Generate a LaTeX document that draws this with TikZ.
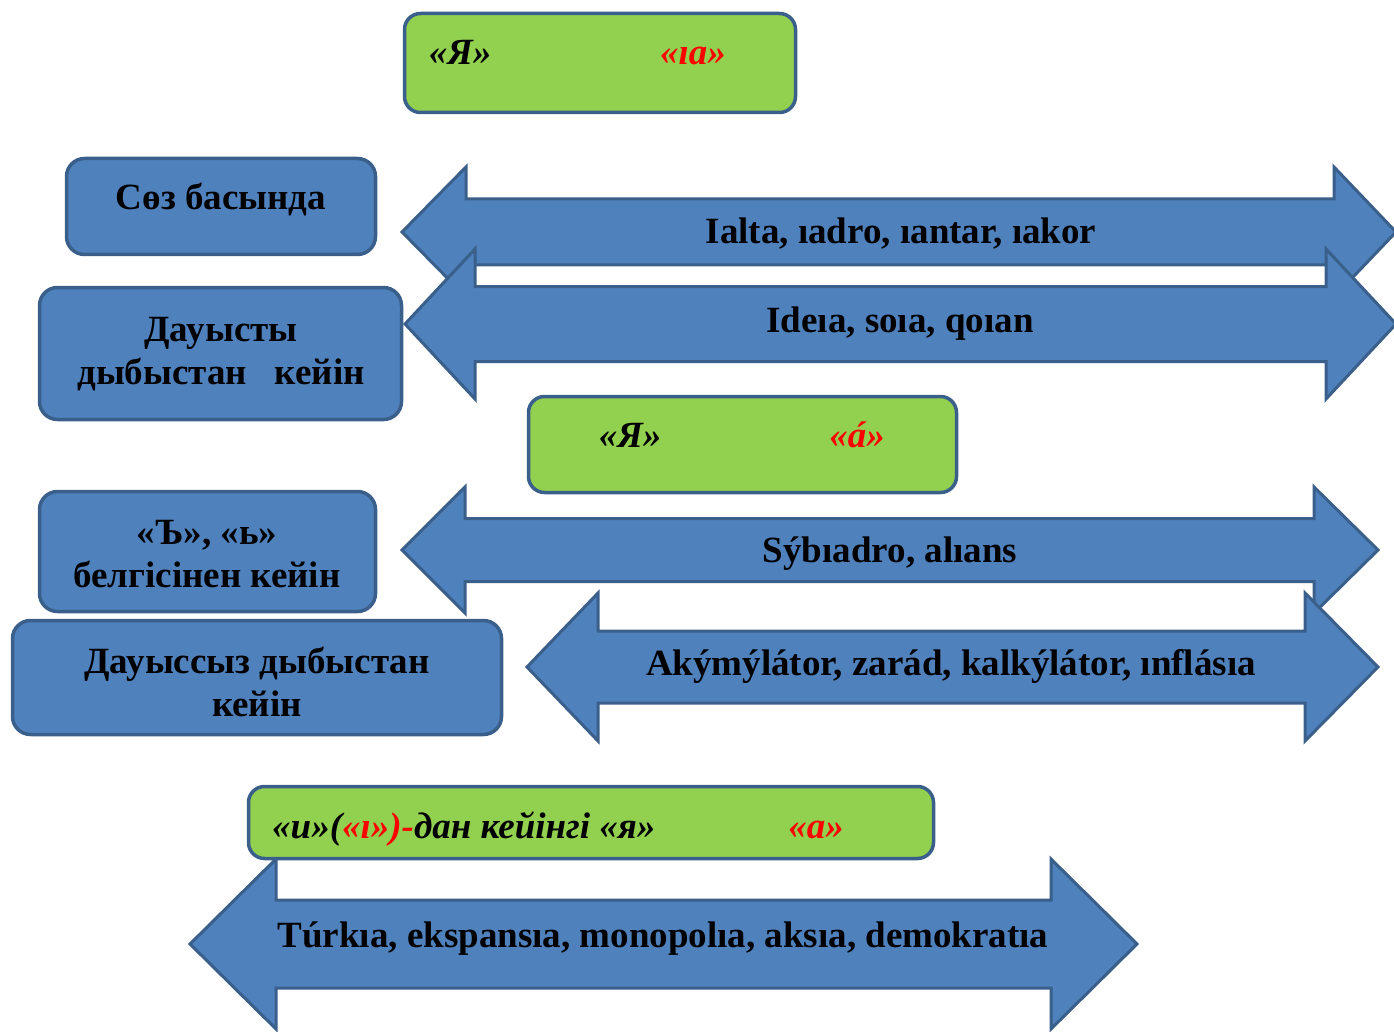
\documentclass[tikz,border=0pt]{standalone}
\usepackage{fontspec}
\setmainfont{Liberation Serif}
\definecolor{boxblue}{HTML}{4F81BD}
\definecolor{edgeblue}{HTML}{3A5F8B}
\definecolor{boxgreen}{HTML}{92D050}
\definecolor{txtred}{HTML}{FF0000}
\tikzset{
  bluebox/.style={draw=edgeblue, fill=boxblue, line width=3.5pt, rounded corners=18pt, inner sep=0pt},
  greenbox/.style={draw=edgeblue, fill=boxgreen, line width=3.5pt, rounded corners=16pt, inner sep=0pt},
  arrowshape/.style={draw=edgeblue, fill=boxblue, line width=3pt, line join=miter},
  lbl/.style={font=\fontsize{37}{43}\selectfont\bfseries, align=center, inner sep=0pt},
  glbl/.style={font=\fontsize{37}{43}\selectfont\bfseries\itshape, inner sep=0pt},
}
% xl, xhl, xhr, xr, yc, shaft half, head half
\newcommand\dblarr[7]{%
  \draw[arrowshape] (#1,#5) -- (#2,#5-#7) -- (#2,#5-#6) -- (#3,#5-#6) -- (#3,#5-#7) -- (#4,#5)
    -- (#3,#5+#7) -- (#3,#5+#6) -- (#2,#5+#6) -- (#2,#5+#7) -- cycle;}
\begin{document}
\begin{tikzpicture}[x=1pt,y=-1pt]
\useasboundingbox (0,0) rectangle (1394,1032);
\clip (0,0) rectangle (1394,1032);

% top green box
\node[greenbox, minimum width=391pt, minimum height=99pt] (g1) at (600,63) {};
\node[glbl, anchor=base] (g1a) at (460,65) {«Я»};
\node[glbl, anchor=base, text=txtred] (g1b) at (693,65) {«ıa»};

% left boxes, upper
\node[bluebox, minimum width=309pt, minimum height=96pt] (b1) at (221,206.5) {};
\node[lbl, anchor=base] (t1) at (221,210) {Сөз басында};
\node[bluebox, minimum width=362pt, minimum height=132pt] (b2) at (220.5,353.5) {};
\node[lbl, anchor=base] (t2) at (221,384) {Дауысты\\дыбыстан\ \ \ кейін};

% arrows 1 and 2
\dblarr{402}{466}{1334}{1396}{232}{33}{65}
\node[lbl, anchor=base] (a1) at (901,244) {Ialta, ıadro, ıantar, ıakor};
\dblarr{405}{475}{1326}{1396}{324}{37.5}{75}
\node[lbl, anchor=base] (a2) at (900,332) {Ideıa, soıa, qoıan};

% middle green box
\node[greenbox, minimum width=428pt, minimum height=96pt] (g2) at (742.5,444.5) {};
\node[glbl, anchor=base] (g2a) at (630,447) {«Я»};
\node[glbl, anchor=base, text=txtred] (g2b) at (857,447) {«á»};

% arrows 3 and 4
\dblarr{402}{465}{1314}{1378}{550}{31.5}{63}
\node[lbl, anchor=base] (a3) at (890,562) {Sýbıadro, alıans};
\dblarr{527}{598}{1305}{1378}{667}{36}{74}
\node[lbl, anchor=base] (a4) at (951,675) {Akýmýlátor, zarád, kalkýlátor, ınflásıa};

% left boxes, lower
\node[bluebox, minimum width=336pt, minimum height=120pt] (b3) at (207.5,551.5) {};
\node[lbl, anchor=base] (t3) at (207,587) {«Ъ», «ь»\\белгісінен кейін};
\node[bluebox, minimum width=489pt, minimum height=114pt] (b4) at (257,677.5) {};
\node[lbl, anchor=base] (t4) at (257,716) {Дауыссыз дыбыстан\\кейін};

% bottom arrow
\dblarr{190}{276}{1051}{1137}{944}{44}{85}
\node[lbl, anchor=base] (a5) at (663,947) {Túrkıa, ekspansıa, monopolıa, aksıa, demokratıa};

% bottom green box
\node[greenbox, minimum width=685pt, minimum height=72pt] (g3) at (591,822.5) {};
\node[glbl, anchor=base west] (g3a) at (272,838) {«и»(\textcolor{txtred}{«ı»)-}дан кейінгі «я»};
\node[glbl, anchor=base, text=txtred] (g3b) at (816,838) {«а»};
\end{tikzpicture}
\end{document}
